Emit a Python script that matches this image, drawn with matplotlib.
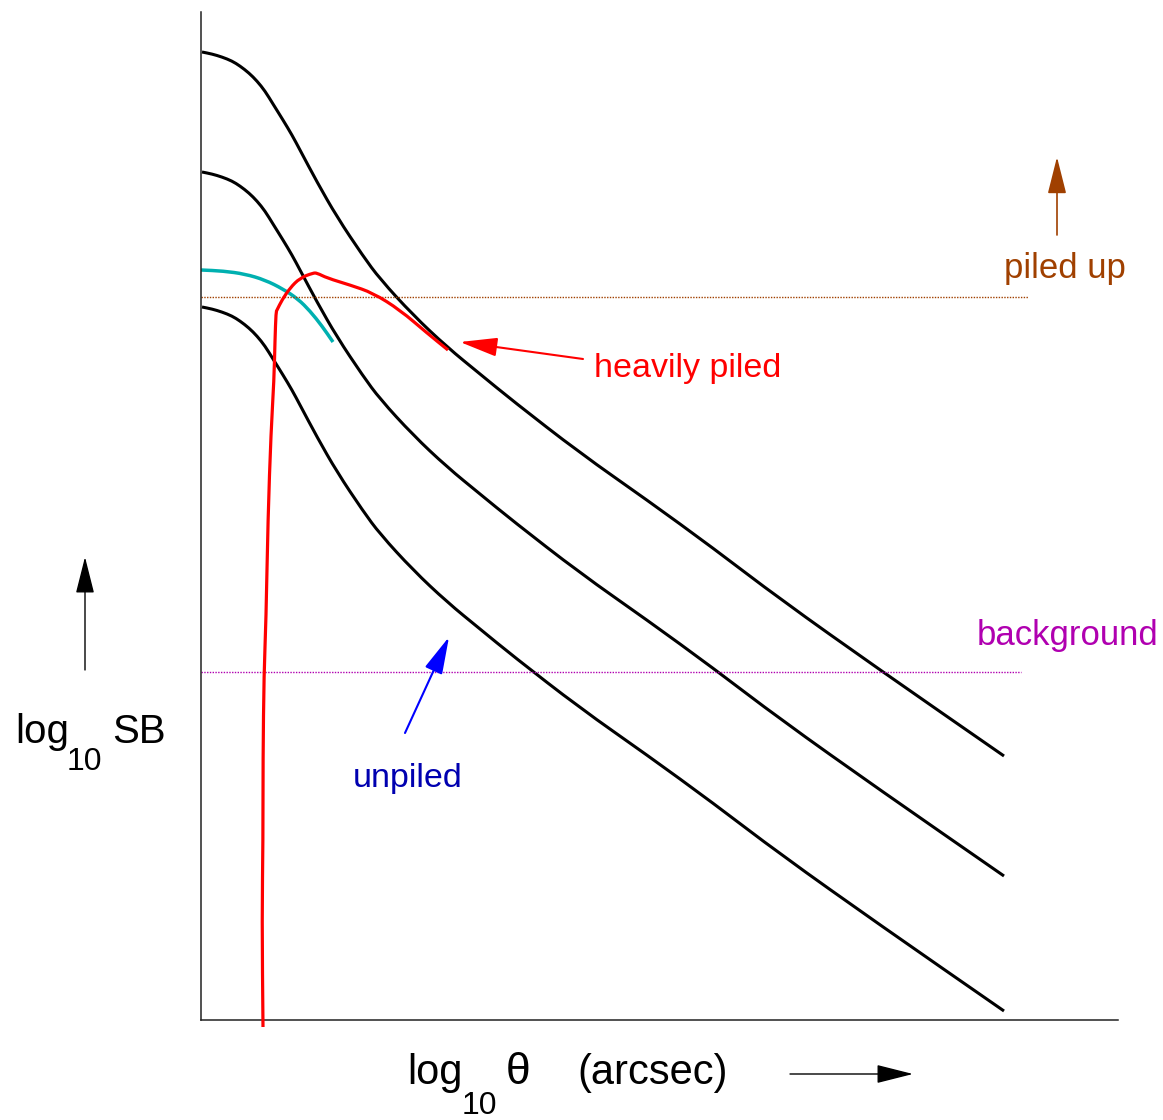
import numpy as np
import matplotlib
matplotlib.use('Agg')
import matplotlib.pyplot as plt
from matplotlib.path import Path
from matplotlib.patches import PathPatch

plt.rcParams['font.family'] = ['Liberation Sans', 'DejaVu Sans']

# Schematic surface-brightness profiles (arbitrary units)
log_theta = np.array([1, 11, 21, 31, 39, 48, 56, 64, 72, 82, 91, 99, 116, 136, 162,
                      179, 212, 246, 279, 312, 379, 446, 512, 579, 679, 803])
sb_bright = np.array([968, 966, 963, 959, 954, 947, 939, 929, 916, 900, 885, 870, 838, 803, 764,
                      741, 705, 673, 646, 619, 567, 520, 472, 421, 350, 264])
source_offsets = [0, 120, 255]

# pile-up saturation of the central profile
cyan_theta = np.array([0, 22, 44, 64, 82, 97, 109, 121, 132])
cyan_sb = np.array([750, 749, 746, 740, 731, 721, 709, 694, 678])

# heavily piled source
piled_theta = np.array([62, 61, 62, 62, 63, 65, 67, 70, 73, 74, 75, 76, 81, 89, 99,
                        112, 116, 126, 149, 172, 199, 226, 247])
piled_sb = np.array([-7, 102, 180, 261, 347, 399, 502, 588, 640, 680, 708, 710, 720, 732, 742,
                     747, 747, 742, 735, 727, 710, 687, 670])

pileup_level = 723
pileup_end = 827
background_level = 348
background_end = 820

W, H = 1163, 1120
fig = plt.figure(figsize=(W / 100, H / 100), dpi=100)
ax = fig.add_axes([201 / W, 100 / H, 917 / W, 1008 / H])
ax.set_xlim(0, 917)
ax.set_ylim(0, 1008)
for side in ['top', 'right']:
    ax.spines[side].set_visible(False)
for side in ['left', 'bottom']:
    ax.spines[side].set_linewidth(1.1)
    ax.spines[side].set_color('#222222')
ax.set_xticks([])
ax.set_yticks([])


def smooth_line(x, y, **kw):
    # quadratic spline through the midpoints, so the sketch has no corners
    pts = np.column_stack([x, y]).astype(float)
    mids = (pts[:-1] + pts[1:]) / 2
    verts = [pts[0], mids[0]]
    codes = [Path.MOVETO, Path.LINETO]
    for i in range(1, len(pts) - 1):
        verts += [pts[i], mids[i]]
        codes += [Path.CURVE3, Path.CURVE3]
    verts.append(pts[-1])
    codes.append(Path.LINETO)
    ax.add_patch(PathPatch(Path(verts, codes), fill=False, **kw))


for off in source_offsets:
    smooth_line(log_theta, sb_bright - off, edgecolor='black', lw=2.2)

smooth_line(cyan_theta, cyan_sb, edgecolor='#00b0b0', lw=2.5)
smooth_line(piled_theta, piled_sb, edgecolor='#ff0000', lw=2.3, clip_on=False, zorder=3)

ax.plot([0, pileup_end], [pileup_level, pileup_level], color='#a04000', lw=1.0, ls=(0, (1, 1)))
ax.plot([0, background_end], [background_level, background_level], color='#b000b0', lw=1.0, ls=(0, (1, 1)))

arrow = '-|>,head_length=2.3,head_width=0.58'


def draw_arrow(tail, tip, color, lw, coords='data'):
    ax.annotate('', xy=tip, xytext=tail, xycoords=coords, textcoords=coords,
                arrowprops=dict(arrowstyle=arrow, mutation_scale=10, color=color,
                                lw=lw, shrinkA=0, shrinkB=0), annotation_clip=False)


draw_arrow((856, 785), (856, 863), '#a04000', 1.2)
draw_arrow((382, 661), (259, 678), '#ff0000', 1.5)
draw_arrow((204, 287), (248, 383), '#0000ff', 1.5)

ax.text(864, 742, 'piled up', color='#a04000', fontsize=25, ha='center', va='baseline')
ax.text(393, 643, 'heavily piled', color='#ff0000', fontsize=24.5, ha='left', va='baseline')
ax.text(776, 375, 'background', color='#b000b0', fontsize=25, ha='left', va='baseline')
ax.text(152, 233, 'unpiled', color='#0000b0', fontsize=24.5, ha='left', va='baseline')

# axis arrows and labels, placed in figure pixels
draw_arrow((85, 450), (85, 563), 'black', 1.0, coords='figure pixels')
draw_arrow((790, 46), (913, 46), 'black', 1.0, coords='figure pixels')


def fig_text(x, y, s, size):
    fig.text(x / W, 1 - y / H, s, fontsize=size, ha='left', va='baseline', color='black')


fig_text(15, 743, 'log', 29)
fig_text(67, 770, '10', 23)
fig_text(112, 743, 'SB', 29)

fig_text(407, 1084, 'log', 30)
fig_text(462, 1114, '10', 23)
fig_text(506, 1084, 'θ', 32)
fig_text(577, 1084, '(arcsec)', 30)

fig.savefig('out.png', dpi=100)
